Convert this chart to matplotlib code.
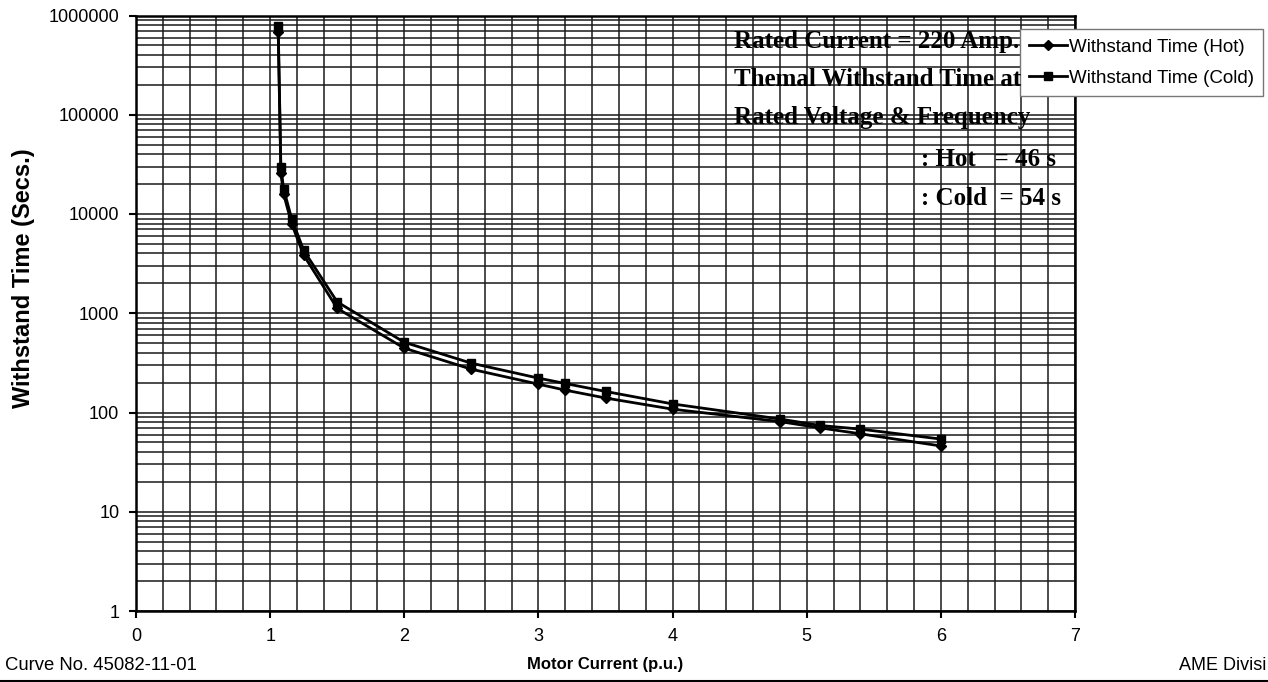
#!/usr/bin/env python3
import matplotlib
matplotlib.use('Agg')
import matplotlib.pyplot as plt
from matplotlib.ticker import LogLocator, MultipleLocator, NullFormatter
from matplotlib.lines import Line2D

# motor current (p.u.) and withstand times (s)
current = [1.06, 1.08, 1.10, 1.16, 1.25, 1.5, 2.0, 2.5, 3.0, 3.2, 3.5, 4.0, 4.8, 5.1, 5.4, 6.0]
time_hot = [680000, 25600, 16000, 8000, 3850, 1120, 445, 273, 193, 168, 140, 108, 81, 70, 61, 46]
time_cold = [780000, 29800, 18000, 9000, 4300, 1300, 510, 314, 222, 196, 163, 122, 86, 74, 68, 54]

ytick_vals = [1, 10, 100, 1000, 10000, 100000, 1000000]
ytick_labels = ['1', '10', '100', '1000', '10000', '100000', '1000000']

note_lines = ['Rated Current = 220 Amp.',
              'Themal Withstand Time at',
              'Rated Voltage & Frequency']
note_hot = ': Hot   = 46 s'
note_cold = ': Cold  = 54 s'

plt.rcParams['font.family'] = ['Liberation Sans', 'DejaVu Sans']

W, H = 1268, 682
fig = plt.figure(figsize=(W / 100, H / 100), dpi=100)
left, right, top, bottom = 136, 1075, 15.5, 611
ax = fig.add_axes([left / W, 1 - bottom / H, (right - left) / W, (bottom - top) / H])

ax.plot(current, time_hot, color='black', lw=2, marker='D', ms=5,
        label='Withstand Time (Hot)', zorder=5)
ax.plot(current, time_cold, color='black', lw=2, marker='s', ms=5.5,
        label='Withstand Time (Cold)', zorder=5)

ax.set_yscale('log')
ax.set_ylim(1, 1000000)
ax.set_xlim(0, 7)
ax.set_yticks(ytick_vals)
ax.set_yticklabels(ytick_labels)
ax.yaxis.set_minor_locator(LogLocator(base=10, subs=range(2, 10), numticks=20))
ax.yaxis.set_minor_formatter(NullFormatter())
ax.set_xticks(range(8))
ax.xaxis.set_minor_locator(MultipleLocator(0.2))

ax.tick_params(which='major', direction='out', length=5, width=1.5,
               labelsize=13, pad=7)
ax.tick_params(which='minor', length=0)
ax.grid(which='both', color='#1a1a1a', lw=1.1)
ax.set_axisbelow(True)
for sp in ax.spines.values():
    sp.set_linewidth(1.8)
    sp.set_color('black')

ax.set_ylabel('Withstand Time (Secs.)', fontsize=17, fontweight='bold')
ax.yaxis.set_label_coords(-0.108, 0.559)
ax.set_xlabel('Motor Current (p.u.)', fontsize=12, fontweight='bold')
ax.xaxis.set_label_coords(0.5, -0.077)

# note block in bold serif over the grid
serif = ['Liberation Serif', 'DejaVu Serif']
for txt, yb in zip(note_lines, [48, 86, 124]):
    fig.text(734 / W, 1 - yb / H, txt, family=serif, fontweight='bold',
             fontsize=18, va='baseline', ha='left')
fig.text(921 / W, 1 - 166 / H, note_hot, family=serif, fontweight='bold',
         fontsize=18, va='baseline', ha='left')
fig.text(921 / W, 1 - 205 / H, note_cold, family=serif, fontweight='bold',
         fontsize=18, va='baseline', ha='left')

leg = ax.legend(loc='upper left', bbox_to_anchor=(1020 / W, 1 - 29 / H),
                bbox_transform=fig.transFigure, borderaxespad=0,
                fontsize=13.5, handlelength=2.0, handletextpad=0.1,
                labelspacing=0.75, borderpad=0.5, fancybox=False,
                framealpha=1, edgecolor='#777777')
leg.get_frame().set_linewidth(1)
leg.set_zorder(10)

fig.text(5 / W, 1 - 665 / H, 'Curve No. 45082-11-01', fontsize=13.3, va='center', ha='left')
fig.text(1266 / W, 1 - 665 / H, 'AME Divisi', fontsize=13, va='center', ha='right')
fig.add_artist(Line2D([0, 1], [1.5 / H, 1.5 / H], transform=fig.transFigure,
                      color='black', lw=1.5))

fig.savefig('out.png', dpi=100)
